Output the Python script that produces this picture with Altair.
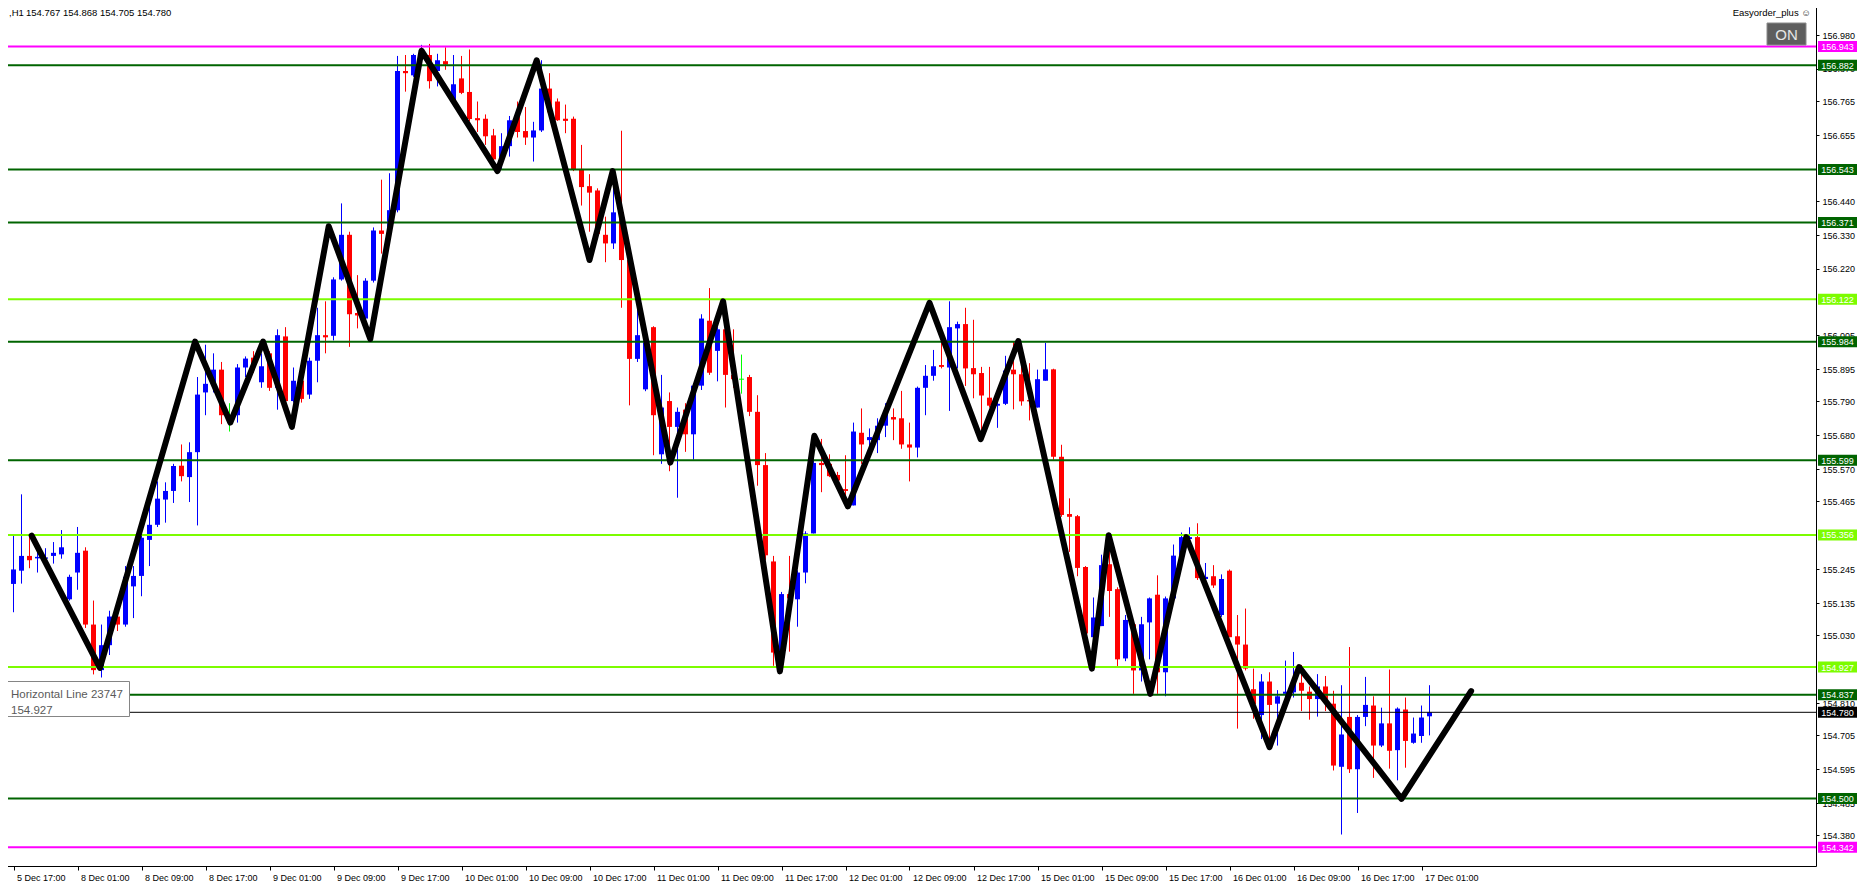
import altair as alt
import pandas as pd

# ---------------- data ----------------
bar_index = list(range(179))
opens = [155.192,155.197,155.240,155.288,155.280,155.279,155.288,155.293,155.147,155.234,
         155.305,155.065,154.917,154.998,155.091,155.065,155.189,155.223,155.340,155.389,
         155.471,155.499,155.581,155.544,155.625,155.819,155.847,155.893,155.745,155.745,
         155.900,155.932,155.852,155.946,155.834,156.001,155.791,155.857,155.812,155.922,
         156.005,156.003,156.186,156.331,156.077,156.059,156.182,156.345,156.345,156.411,
         156.863,156.849,156.915,156.915,156.863,156.895,156.764,156.839,156.795,156.710,
         156.708,156.654,156.576,156.619,156.722,156.668,156.647,156.670,156.806,156.764,
         156.708,156.708,156.545,156.489,156.475,156.331,156.303,156.404,156.249,155.928,
         155.829,156.031,155.618,155.791,155.707,155.763,155.683,155.841,156.052,155.954,
         156.024,155.876,155.862,155.869,155.756,155.583,155.270,154.970,155.164,155.147,
         155.234,155.361,155.590,155.587,155.551,155.505,155.452,155.688,155.664,155.664,
         155.711,155.739,155.735,155.650,155.640,155.834,155.873,155.908,155.900,156.027,
         156.041,155.898,155.882,155.802,155.776,155.782,155.893,155.878,155.794,155.770,
         155.857,155.894,155.610,155.424,155.417,155.252,155.024,155.060,155.261,155.180,
         154.955,155.066,154.916,155.072,155.162,154.910,155.150,155.289,155.343,155.349,
         155.213,155.222,155.096,155.240,155.027,155.000,154.855,154.771,154.880,154.808,
         154.840,154.845,154.876,154.847,154.823,154.864,154.808,154.603,154.765,154.595,
         154.765,154.802,154.672,154.744,154.657,154.789,154.681,154.703,154.767]
highs = [155.277,155.354,155.488,155.354,155.319,155.313,155.333,155.372,155.227,155.382,
         155.316,155.143,155.065,155.110,155.100,155.255,155.255,155.354,155.474,155.530,
         155.527,155.587,155.650,155.657,155.869,155.974,155.946,155.918,155.784,155.911,
         155.936,155.953,155.946,155.953,156.024,156.031,155.900,155.869,155.932,156.094,
         156.115,156.193,156.433,156.341,156.200,156.190,156.355,156.510,156.531,156.912,
         156.915,156.919,156.948,156.951,156.919,156.940,156.915,156.912,156.933,156.764,
         156.722,156.675,156.661,156.717,156.764,156.746,156.698,156.898,156.856,156.774,
         156.754,156.715,156.623,156.528,156.482,156.390,156.524,156.669,156.256,156.094,
         155.988,156.034,155.876,155.819,155.770,155.784,155.848,156.073,156.158,156.031,
         156.027,156.024,155.942,155.876,155.810,155.622,155.288,155.171,155.288,155.241,
         155.368,155.681,155.668,155.618,155.561,155.615,155.721,155.767,155.702,155.735,
         155.784,155.767,155.824,155.721,155.838,155.908,155.957,155.982,156.115,156.049,
         156.094,156.055,155.902,155.902,155.800,155.938,155.986,155.914,155.914,155.893,
         155.980,155.896,155.649,155.475,155.421,155.255,155.153,155.292,155.355,155.186,
         155.096,155.072,155.090,155.153,155.225,155.156,155.325,155.364,155.381,155.394,
         155.265,155.258,155.228,155.244,155.096,155.117,154.922,154.904,154.910,154.852,
         154.948,154.976,154.934,154.864,154.904,154.898,154.850,154.868,154.992,154.771,
         154.895,154.832,154.795,154.919,154.796,154.828,154.763,154.802,154.868]
lows = [155.100,155.105,155.198,155.248,155.234,155.270,155.263,155.279,155.143,155.178,
        155.054,154.903,154.893,154.966,155.044,155.058,155.086,155.157,155.255,155.382,
        155.396,155.460,155.530,155.463,155.387,155.745,155.819,155.716,155.692,155.721,
        155.869,155.883,155.834,155.824,155.763,155.786,155.786,155.786,155.798,155.852,
        155.946,155.988,156.182,155.967,156.027,156.055,156.176,156.270,156.334,156.404,
        156.796,156.844,156.890,156.806,156.813,156.867,156.764,156.788,156.700,156.665,
        156.623,156.573,156.545,156.585,156.647,156.623,156.569,156.665,156.726,156.701,
        156.661,156.538,156.426,156.341,156.327,156.242,156.285,156.094,155.777,155.918,
        155.823,155.615,155.587,155.563,155.477,155.626,155.601,155.827,155.876,155.855,
        155.770,155.834,155.815,155.742,155.516,155.275,154.931,154.913,154.977,155.058,
        155.199,155.361,155.495,155.544,155.523,155.449,155.452,155.587,155.622,155.622,
        155.674,155.664,155.636,155.530,155.608,155.745,155.857,155.897,155.759,155.897,
        155.840,155.800,155.667,155.770,155.704,155.778,155.764,155.776,155.728,155.770,
        155.857,155.601,155.415,155.301,155.222,155.010,154.922,155.060,155.090,154.928,
        154.946,154.840,154.880,154.952,154.840,154.832,155.144,155.271,155.300,155.210,
        155.210,155.184,155.090,155.024,154.727,154.916,154.759,154.693,154.667,154.672,
        154.828,154.828,154.784,154.756,154.766,154.784,154.591,154.383,154.583,154.453,
        154.735,154.567,154.667,154.597,154.559,154.600,154.678,154.681,154.705]
closes = [155.203,155.244,155.288,155.274,155.285,155.283,155.298,155.316,155.220,155.298,
          155.065,154.917,154.998,155.091,155.065,155.220,155.223,155.347,155.389,155.474,
          155.499,155.580,155.547,155.625,155.812,155.847,155.893,155.745,155.745,155.900,
          155.929,155.911,155.904,155.834,156.005,155.791,155.857,155.798,155.922,156.005,
          155.998,156.186,156.331,156.073,156.069,156.182,156.345,156.334,156.411,156.863,
          156.856,156.915,156.930,156.830,156.898,156.884,156.820,156.792,156.707,156.703,
          156.651,156.576,156.619,156.703,156.665,156.647,156.670,156.806,156.729,156.703,
          156.701,156.543,156.486,156.468,156.334,156.303,156.404,156.249,155.928,156.005,
          155.981,155.745,155.770,155.707,155.756,155.683,155.841,156.059,155.883,156.024,
          155.876,155.862,155.862,155.756,155.583,155.290,154.974,155.164,155.150,155.234,
          155.361,155.590,155.583,155.547,155.533,155.499,155.692,155.650,155.674,155.711,
          155.756,155.731,155.650,155.640,155.834,155.873,155.904,155.902,156.031,156.041,
          155.897,155.878,155.809,155.776,155.782,155.890,155.878,155.790,155.790,155.862,
          155.894,155.610,155.421,155.415,155.249,155.036,155.088,155.258,155.174,154.952,
          155.080,154.916,155.066,155.150,154.910,155.150,155.289,155.349,155.349,155.216,
          155.220,155.192,155.213,155.024,155.000,154.922,154.807,154.880,154.804,154.832,
          154.847,154.880,154.850,154.823,154.864,154.814,154.607,154.708,154.595,154.765,
          154.804,154.672,154.744,154.655,154.792,154.687,154.711,154.763,154.780]

zigzag_bar = [3.27, 11.8, 23.7, 28.1, 32.2, 35.8, 40.4, 45.6, 52.0, 61.5, 66.4, 73.0, 75.9,
              83.1, 89.7, 96.8, 101.1, 105.3, 115.5, 121.9, 126.6, 135.8, 137.9, 143.1,
              147.6, 158.0, 161.7, 174.5, 183.2]
zigzag_price = [155.354, 154.924, 155.984, 155.721, 155.984, 155.707, 156.359, 155.993, 156.929,
                156.538, 156.898, 156.249, 156.538, 155.591, 156.115, 154.913, 155.678, 155.449,
                156.110, 155.667, 155.986, 154.922, 155.355, 154.840, 155.349, 154.667, 154.927,
                154.499, 154.849]

level_prices = [156.943, 156.882, 156.543, 156.371, 156.122, 155.984, 155.599, 155.356,
                154.927, 154.837, 154.780, 154.500, 154.342]
level_kinds = ["magenta", "dkgreen", "dkgreen", "dkgreen", "lime", "dkgreen", "dkgreen", "lime",
               "lime", "dkgreen", "current", "dkgreen", "magenta"]
level_labels = ["156.943", "156.882", "156.543", "156.371", "156.122", "155.984", "155.599",
                "155.356", "154.927", "154.837", "154.780", "154.500", "154.342"]

x_tick_bars = [1, 9, 17, 25, 33, 41, 49, 57, 65, 73, 81, 89, 97, 105, 113, 121, 129, 137,
               145, 153, 161, 169, 177]
x_tick_labels = ["5 Dec 17:00", "8 Dec 01:00", "8 Dec 09:00", "8 Dec 17:00", "9 Dec 01:00",
                 "9 Dec 09:00", "9 Dec 17:00", "10 Dec 01:00", "10 Dec 09:00", "10 Dec 17:00",
                 "11 Dec 01:00", "11 Dec 09:00", "11 Dec 17:00", "12 Dec 01:00", "12 Dec 09:00",
                 "12 Dec 17:00", "15 Dec 01:00", "15 Dec 09:00", "15 Dec 17:00", "16 Dec 01:00",
                 "16 Dec 09:00", "16 Dec 17:00", "17 Dec 01:00"]
y_tick_values = [156.980, 156.870, 156.765, 156.655, 156.440, 156.330, 156.220,
                 156.005, 155.895, 155.790, 155.680, 155.570, 155.465, 155.245, 155.135,
                 155.030, 154.810, 154.705, 154.595, 154.485, 154.380]

header_symbol = ",H1"
header_ohlc = "154.767 154.868 154.705 154.780"
ea_name = "Easyorder_plus \u263a"
button_text = "ON"
tip_lines = ["Horizontal Line 23747", "154.927"]

# ---------------- styles ----------------
FONT = "Liberation Sans"
candle_colors = {"up": "#0000FF", "down": "#FF0000", "flat": "#00FF00"}
level_colors = {"magenta": "#FF00FF", "dkgreen": "#006400", "lime": "#7CFC00", "current": "#000000"}
level_widths = {"magenta": 2, "dkgreen": 2, "lime": 2, "current": 1}

W, H = 1816, 866
PX = 0.0032482  # price per pixel
TOP = 157.0937
x_scale = alt.Scale(domain=[-0.6875, 226.3125], nice=False, zero=False)
y_scale = alt.Scale(domain=[TOP - H * PX, TOP], nice=False, zero=False)

# ---------------- tables ----------------
c = pd.DataFrame({"bar": bar_index, "o": opens, "h": highs, "l": lows, "c": closes})
c["dir"] = ["up" if cc > oo else ("down" if cc < oo else "flat") for oo, cc in zip(c.o, c.c)]
c["col"] = c["dir"].map(candle_colors)
mid = (c.o + c.c) / 2
lo = c[["o", "c"]].min(axis=1)
hi = c[["o", "c"]].max(axis=1)
thin = (hi - lo) < PX
c["blo"] = lo.where(~thin, mid - PX / 2)
c["bhi"] = hi.where(~thin, mid + PX / 2)
c["x0"] = c.bar - 0.3125
c["x1"] = c.bar + 0.3125

zz = pd.DataFrame({"bar": zigzag_bar, "price": zigzag_price, "seq": range(len(zigzag_bar))})

lv = pd.DataFrame({"price": level_prices, "kind": level_kinds, "label": level_labels})
lv["col"] = lv["kind"].map(level_colors)
lv["sw"] = lv["kind"].map(level_widths)
lv["top"] = lv.price + 5.5 * PX
lv["bot"] = lv.price - 5.5 * PX

axis_x = alt.Axis(values=x_tick_bars, grid=False, title=None, domainColor="#000000",
                  tickColor="#000000", tickSize=4, labelColor="#000000", labelFont=FONT,
                  labelFontSize=9, labelAlign="left", labelBaseline="top", labelOffset=3,
                  labelPadding=3, labelOverlap=False, labelFlush=False,
                  labelExpr="[" + ",".join("'%s'" % s for s in x_tick_labels) + "][indexof(["
                  + ",".join(str(v) for v in x_tick_bars) + "], datum.value)]")
axis_y = alt.Axis(values=y_tick_values, orient="right", grid=False, title=None, format=".3f",
                  domainColor="#000000", tickColor="#000000", tickSize=3, labelColor="#000000",
                  labelFont=FONT, labelFontSize=9, labelAlign="left", labelBaseline="middle",
                  labelPadding=3, labelOverlap=False, labelFlush=False)

base_c = alt.Chart(c)
wicks = base_c.mark_rule(strokeWidth=1).encode(
    x=alt.X("bar:Q", scale=x_scale, axis=axis_x),
    y=alt.Y("l:Q", scale=y_scale, axis=axis_y),
    y2="h:Q",
    color=alt.Color("col:N", scale=None),
)
bodies = base_c.mark_rect().encode(
    x="x0:Q", x2="x1:Q", y="blo:Q", y2="bhi:Q",
    color=alt.Color("col:N", scale=None),
)
levels = alt.Chart(lv).mark_rule().encode(
    y="price:Q",
    color=alt.Color("col:N", scale=None),
    strokeWidth=alt.StrokeWidth("sw:Q", scale=None),
)
zigzag = alt.Chart(zz).mark_line(color="#000000", strokeWidth=6, strokeCap="round",
                                 strokeJoin="round").encode(
    x="bar:Q", y="price:Q", order="seq:Q")
lab_box = alt.Chart(lv).mark_rect().encode(
    x=alt.value(1818), x2=alt.value(1857), y="top:Q", y2="bot:Q",
    color=alt.Color("col:N", scale=None),
)
lab_txt = alt.Chart(lv).mark_text(color="#FFFFFF", font=FONT, fontSize=9, align="center",
                                   baseline="middle", dy=0.5).encode(
    x=alt.value(1837.5), y="price:Q", text="label:N")

hdr = pd.DataFrame({"t": [header_symbol]})
hdr2 = pd.DataFrame({"t": [header_ohlc]})
ea = pd.DataFrame({"t": [ea_name]})
btn = pd.DataFrame({"t": [button_text]})
tip1 = pd.DataFrame({"t": [tip_lines[0]]})
tip2 = pd.DataFrame({"t": [tip_lines[1]]})

hdr_a = alt.Chart(hdr).mark_text(font=FONT, fontSize=9.5, color="#000000", align="left",
                                 baseline="alphabetic").encode(x=alt.value(9), y=alt.value(16), text="t:N")
hdr_b = alt.Chart(hdr2).mark_text(font=FONT, fontSize=9.5, color="#000000", align="left",
                                  baseline="alphabetic").encode(x=alt.value(26), y=alt.value(16), text="t:N")
ea_t = alt.Chart(ea).mark_text(font=FONT, fontSize=9.5, color="#000000", align="right",
                               baseline="alphabetic").encode(x=alt.value(1811), y=alt.value(16), text="t:N")
btn_r = alt.Chart(btn).mark_rect(fill="#5E5E5E", stroke="#8A8A8A", strokeWidth=1).encode(
    x=alt.value(1767), x2=alt.value(1806), y=alt.value(23), y2=alt.value(45))
btn_t = alt.Chart(btn).mark_text(font=FONT, fontSize=15, color="#E6E6E6", align="center",
                                 baseline="middle").encode(x=alt.value(1786.5), y=alt.value(34.5), text="t:N")
tip_r = alt.Chart(tip1).mark_rect(fill="#FFFFFF", stroke="#858585", strokeWidth=1).encode(
    x=alt.value(3.5), x2=alt.value(129.5), y=alt.value(681.5), y2=alt.value(716.5))
tip_a = alt.Chart(tip1).mark_text(font=FONT, fontSize=11.5, color="#5A5A5A", align="left",
                                  baseline="alphabetic").encode(x=alt.value(11), y=alt.value(698), text="t:N")
tip_b = alt.Chart(tip2).mark_text(font=FONT, fontSize=11.5, color="#5A5A5A", align="left",
                                  baseline="alphabetic").encode(x=alt.value(11), y=alt.value(714), text="t:N")

chart = alt.layer(
    wicks, bodies, levels, zigzag, lab_box, lab_txt,
    hdr_a, hdr_b, ea_t, btn_r, btn_t, tip_r, tip_a, tip_b,
).properties(
    width=W, height=H,
    padding={"left": -8, "top": -8, "right": 41, "bottom": 16},
    autosize=alt.AutoSizeParams(type="none"),
    background="#FFFFFF",
).configure_view(stroke=None)

chart.save("out.html", embed_options={"renderer": "svg", "actions": False})
